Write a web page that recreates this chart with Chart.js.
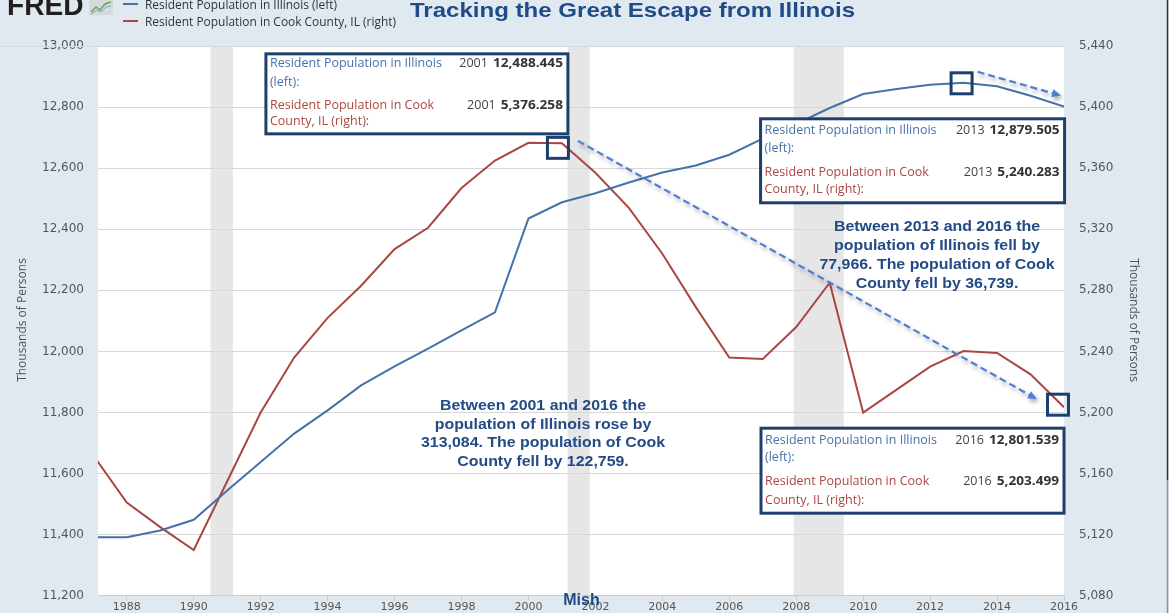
<!DOCTYPE html>
<html>
<head>
<meta charset="utf-8">
<script src="https://cdn.jsdelivr.net/npm/chart.js@4.4.1/dist/chart.umd.min.js"></script>
<style>
html,body{margin:0;padding:0;background:#e1e9f0;overflow:hidden;}
#wrap{width:1169px;height:613px;position:relative;overflow:hidden;}
canvas{display:block;}
</style>
</head>
<body>
<div id="wrap"><canvas id="c" width="1169" height="613" style="width:1169px;height:613px"></canvas></div>
<script>
// ---- data (thousands of persons, annual) ----
const years = [1987,1988,1989,1990,1991,1992,1993,1994,1995,1996,1997,1998,1999,2000,2001,2002,2003,2004,2005,2006,2007,2008,2009,2010,2011,2012,2013,2014,2015,2016];
const illinois = [11392,11392,11414,11449,11545,11638,11731,11807,11889,11951,12009,12069,12128,12435,12488.445,12518,12553,12586,12609,12644,12697,12745,12797,12843,12859,12873,12879.505,12868,12837,12801.539];
const cook = [5172,5141,5125,5110,5155,5200,5236,5262,5283,5307,5321,5347,5365,5376.6,5376.258,5357,5334,5304,5269,5236,5235,5256,5285,5200,5215,5230,5240.283,5239,5225,5203.499];
const xTickLabels = [1988,1990,1992,1994,1996,1998,2000,2002,2004,2006,2008,2010,2012,2014,2016];
const leftTicks = [11200,11400,11600,11800,12000,12200,12400,12600,12800,13000];
const rightTicks = [5080,5120,5160,5200,5240,5280,5320,5360,5400,5440];
const recessions = [[1990.5,1991.17],[2001.17,2001.83],[2007.92,2009.42]];
const seriesNames = ['Resident Population in Illinois (left)','Resident Population in Cook County, IL (right)'];
const titleText = 'Tracking the Great Escape from Illinois';
const note1 = ['Between 2001 and 2016 the','population of Illinois rose by','313,084. The population of Cook','County fell by 122,759.'];
const note2 = ['Between 2013 and 2016 the','population of Illinois fell by','77,966. The population of Cook','County fell by 36,739.'];

const BLUE = '#4572a7', RED = '#aa4643', NAVY = '#1d3f6e', NOTE = '#234b85', ARROW = '#4d7fd4';
const PLOT_BOTTOM = 596;

function fmt3(v){return v.toLocaleString('en-US',{minimumFractionDigits:3,maximumFractionDigits:3});}

const deco = {
  id:'deco',
  beforeDraw(chart){
    const {ctx, chartArea:a, scales:{x}} = chart;
    ctx.save();
    ctx.fillStyle = '#e1e9f0';
    ctx.fillRect(0,0,chart.width,chart.height);
    ctx.fillStyle = '#ffffff';
    ctx.fillRect(a.left,a.top,a.right-a.left,a.bottom-a.top);
    ctx.fillStyle = '#e6e6e6';
    recessions.forEach(([s,e])=>{
      const x0 = x.getPixelForValue(s), x1 = x.getPixelForValue(e);
      ctx.fillRect(x0,a.top,x1-x0,a.bottom-a.top);
    });
    ctx.restore();
  },
  afterDraw(chart){
    const {ctx, chartArea:a, scales:{x, yL, yR}} = chart;
    function W(s,font){ctx.save();ctx.font=font;const w=ctx.measureText(s).width;ctx.restore();return w;}
    function T(s,px,py,o){
      ctx.save();ctx.font=o.font;ctx.fillStyle=o.color;ctx.textAlign=o.align||'left';
      ctx.textBaseline=o.base||'alphabetic';ctx.translate(px,py);
      if(o.rot) ctx.rotate(o.rot);
      ctx.scale(o.sx||1,1);ctx.fillText(s,0,0);ctx.restore();
    }
    const idx = y => years.indexOf(y);
    const pt = (yr, arr, sc) => ({x:x.getPixelForValue(yr), y:sc.getPixelForValue(arr[idx(yr)])});

    ctx.save();ctx.strokeStyle='#d3dbe3';ctx.lineWidth=1;
    ctx.beginPath();ctx.moveTo(0,a.top+0.5);ctx.lineTo(a.left,a.top+0.5);ctx.stroke();ctx.restore();

    // ---- header: logo, legend, title ----
    T('FRED',7,15,{font:'bold 29px "Liberation Sans", Arial',color:'#231f20',sx:0.97});
    ctx.save();
    ctx.fillStyle='#d5dadf';ctx.fillRect(89,0,24,15);
    ctx.strokeStyle='#6aa84f';ctx.lineWidth=1.5;ctx.beginPath();
    ctx.moveTo(91,12);ctx.lineTo(96,7);ctx.lineTo(100,10);ctx.lineTo(105,4);ctx.lineTo(111,2);ctx.stroke();
    ctx.strokeStyle='#7fa0c8';ctx.lineWidth=1;ctx.beginPath();
    ctx.moveTo(91,14);ctx.lineTo(97,10);ctx.lineTo(101,12);ctx.lineTo(106,7);ctx.lineTo(111,6);ctx.stroke();
    ctx.restore();
    const lf = '12px "Open Sans"';
    const lsx = 251 / W(seriesNames[1], lf);
    [[BLUE,4,8.5],[RED,21,25.5]].forEach(([c,ly,bl],i)=>{
      ctx.save();ctx.strokeStyle=c;ctx.lineWidth=2;ctx.beginPath();ctx.moveTo(123,ly);ctx.lineTo(138,ly);ctx.stroke();ctx.restore();
      T(seriesNames[i],145,bl,{font:lf,color:'#333',sx:lsx});
    });
    const tf = 'bold 21px "Liberation Sans", Arial';
    T(titleText,410,17,{font:tf,color:'#1f4b87',sx:445/W(titleText,tf)});

    // ---- axis titles ----
    T('Thousands of Persons',23,320,{font:'12px "Open Sans"',color:'#555',align:'center',base:'middle',rot:-Math.PI/2});
    T('Thousands of Persons',1133,320,{font:'12px "Open Sans"',color:'#555',align:'center',base:'middle',rot:Math.PI/2});

    // ---- notes ----
    const nf = 'bold 14px "Liberation Sans", Arial';
    const nsx = 244 / W(note1[2], nf);
    note1.forEach((s,i)=>T(s,543,410+i*18.7,{font:nf,color:NOTE,align:'center',sx:nsx}));
    note2.forEach((s,i)=>T(s,937,231+i*18.9,{font:nf,color:NOTE,align:'center',sx:nsx}));

    // ---- arrows ----
    const p01 = pt(2001,cook,yR), p13 = pt(2013,illinois,yL), p16c = pt(2016,cook,yR), p16i = pt(2016,illinois,yL);
    function arrow(x0,y0,x1,y1){
      ctx.save();
      ctx.shadowColor='rgba(0,0,0,0.35)';ctx.shadowBlur=4;ctx.shadowOffsetX=2;ctx.shadowOffsetY=3;
      ctx.strokeStyle=ARROW;ctx.lineWidth=2.2;ctx.setLineDash([7,4]);
      const ang=Math.atan2(y1-y0,x1-x0);
      const ex=x1-7*Math.cos(ang), ey=y1-7*Math.sin(ang);
      ctx.beginPath();ctx.moveTo(x0,y0);ctx.lineTo(ex,ey);ctx.stroke();
      ctx.setLineDash([]);ctx.fillStyle=ARROW;ctx.beginPath();
      ctx.moveTo(x1,y1);
      ctx.lineTo(x1-9*Math.cos(ang)+4*Math.sin(ang), y1-9*Math.sin(ang)-4*Math.cos(ang));
      ctx.lineTo(x1-9*Math.cos(ang)-4*Math.sin(ang), y1-9*Math.sin(ang)+4*Math.cos(ang));
      ctx.closePath();ctx.fill();
      ctx.restore();
    }
    arrow(p01.x+16,p01.y-2.5,p16c.x-27,p16c.y-8);
    arrow(p13.x+14,p13.y-11,p16i.x-3,p16i.y-11);

    // ---- highlight squares ----
    function sq(cx,cy){ctx.save();ctx.strokeStyle=NAVY;ctx.lineWidth=3;ctx.strokeRect(cx-10.5,cy-10.5,21,21);ctx.restore();}
    sq(p01.x-4,p01.y+4.5);
    sq(p13.x-2,p13.y+0.5);
    sq(p16c.x-6,p16c.y-2.5);

    // ---- tooltip boxes ----
    const bf = '12px "Open Sans"', bfb = 'bold 12px "Open Sans"';
    const bsx = 172 / W('Resident Population in Illinois', bf);
    const vsx = 70 / W('12,488.445', bfb);
    function tip(l,t,w,h,yr,offs){
      ctx.save();ctx.fillStyle='#fff';ctx.fillRect(l,t,w,h);
      ctx.lineWidth=3;ctx.strokeStyle=NAVY;ctx.strokeRect(l,t,w,h);ctx.restore();
      T('Resident Population in Illinois',l+4,t+offs[0],{font:bf,color:BLUE,sx:bsx,base:'middle'});
      T('(left):',l+4,t+offs[1],{font:bf,color:BLUE,sx:bsx,base:'middle'});
      T('Resident Population in Cook',l+4,t+offs[2],{font:bf,color:RED,sx:bsx,base:'middle'});
      T('County, IL (right):',l+4,t+offs[3],{font:bf,color:RED,sx:bsx,base:'middle'});
      const vr = l+w-5;
      [[illinois,offs[0]],[cook,offs[2]]].forEach(([arr,o])=>{
        const v = fmt3(arr[idx(yr)]);
        const vw = W(v,bfb)*vsx;
        T(v,vr,t+o,{font:bfb,color:'#333',align:'right',sx:vsx,base:'middle'});
        T(String(yr),vr-vw-5,t+o,{font:bf,color:'#444',align:'right',sx:bsx,base:'middle'});
      });
    }
    tip(p01.x-296,p01.y-89.5,302,80,2001,[10,28.7,52,67.7]);
    tip(p13.x-203,p13.y+36,304,84,2013,[12,30,53.7,71]);
    tip(p16c.x-303,p16c.y+21,303,85,2016,[12,29.7,53.7,72]);

    // ---- signature ----
    T('Mish',581.5,605,{font:'bold 16px "Liberation Sans", Arial',color:'#1f4a85',align:'center'});

    // right edge line
    ctx.save();ctx.lineWidth=1.5;
    ctx.strokeStyle='#333';ctx.beginPath();ctx.moveTo(1167.5,0);ctx.lineTo(1167.5,480);ctx.stroke();
    ctx.strokeStyle='#8090b8';ctx.beginPath();ctx.moveTo(1167.5,480);ctx.lineTo(1167.5,chart.height);ctx.stroke();
    ctx.restore();
  }
};

function makeConfig(){
  return {
    type:'line',
    data:{
      datasets:[
        {label:seriesNames[0],data:years.map((y,i)=>({x:y,y:illinois[i]})),borderColor:BLUE,borderWidth:2,pointRadius:0,tension:0,yAxisID:'yL'},
        {label:seriesNames[1],data:years.map((y,i)=>({x:y,y:cook[i]})),borderColor:RED,borderWidth:2,pointRadius:0,tension:0,yAxisID:'yR'}
      ]
    },
    options:{
      responsive:false,maintainAspectRatio:false,animation:false,devicePixelRatio:1,
      layout:{padding:{top:46,left:0,right:0,bottom:0}},
      plugins:{legend:{display:false},tooltip:{enabled:false},title:{display:false}},
      events:[],
      scales:{
        x:{type:'linear',min:1987.14,max:2016,
          afterBuildTicks:s=>{s.ticks=xTickLabels.map(v=>({value:v}));},
          ticks:{callback:v=>String(v),font:{family:'DejaVu Sans',size:11},color:'#555',padding:0,maxRotation:0,autoSkip:false},
          grid:{drawOnChartArea:false,drawTicks:true,tickLength:5,color:'#c5cdd6'},
          border:{color:'#c5cdd6'}
        },
        yL:{type:'linear',position:'left',min:11200,max:13000,
          afterBuildTicks:s=>{s.ticks=leftTicks.map(v=>({value:v}));},
          ticks:{callback:v=>v.toLocaleString('en-US'),font:{family:'DejaVu Sans',size:12},color:'#555',padding:14},
          grid:{color:'#d8d8d8',drawTicks:false},
          border:{display:false},
          afterFit:s=>{s.width=98;}
        },
        yR:{type:'linear',position:'right',min:5080,max:5440,
          afterBuildTicks:s=>{s.ticks=rightTicks.map(v=>({value:v}));},
          ticks:{callback:v=>v.toLocaleString('en-US'),font:{family:'DejaVu Sans',size:12},color:'#555',padding:15},
          grid:{display:false,drawTicks:false},
          border:{display:false},
          afterFit:s=>{s.width=105;}
        }
      }
    },
    plugins:[deco]
  };
}

const canvas = document.getElementById('c');
function build(h){
  canvas.height = h; canvas.style.height = h + 'px';
  return new Chart(canvas, makeConfig());
}
let chart = build(613);
// the x-axis labels run off the bottom edge in the original: grow the canvas so the plot floor sits where it does there
const extra = Math.round(PLOT_BOTTOM - chart.chartArea.bottom);
if (extra !== 0) { chart.destroy(); chart = build(613 + extra); }
</script>
</body>
</html>
